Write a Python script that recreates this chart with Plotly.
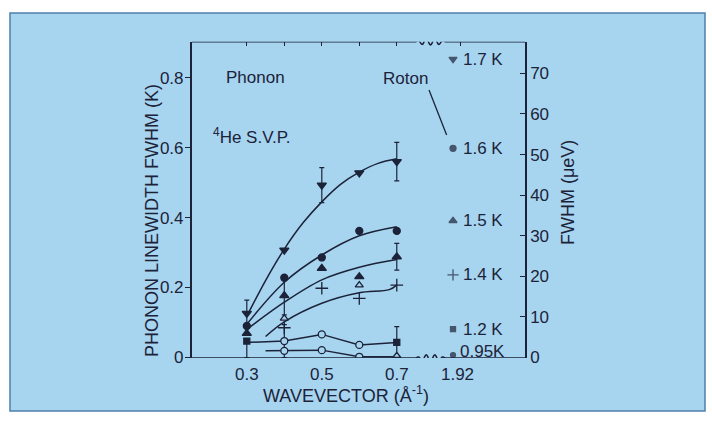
import math
import plotly.graph_objects as go

# { data (wavevector in 1/A, linewidth in K)
q = [0.3, 0.4, 0.5, 0.6, 0.7]

w17 = [0.126, 0.307, 0.493, 0.528, 0.560]          # filled down triangles
e17 = [0.038, 0.0, 0.050, 0.0, 0.055]
w16 = [0.090, 0.228, 0.286, 0.362, 0.362]          # filled circles
w15 = [0.069, 0.177, 0.255, 0.231, 0.288]          # filled up triangles
e15 = [0.0, 0.055, 0.0, 0.0, 0.038]
q14 = [0.4, 0.5, 0.6, 0.7]
w14 = [0.085, 0.198, 0.169, 0.207]                 # crosses
q_open_tri = [0.4, 0.6, 0.7]
w_open_tri = [0.112, 0.207, 0.005]
q12 = [0.3, 0.7]
w12 = [0.047, 0.043]                               # filled squares
e12_up = [0.0, 0.045]
e12_dn = [0.047, 0.043]
q_oc1 = [0.4, 0.5, 0.6]
w_oc1 = [0.047, 0.066, 0.036]                      # open circles, upper row
e_oc1 = [0.047, 0.0, 0.0]
q_oc2 = [0.4, 0.5, 0.6]
w_oc2 = [0.019, 0.021, 0.002]                      # open circles, lower row

# hand drawn guide curves
qa = [0.3, 0.35, 0.4, 0.45, 0.5, 0.55, 0.6, 0.65, 0.7]
ca = [0.118, 0.220, 0.310, 0.385, 0.445, 0.495, 0.530, 0.555, 0.568]
qb = [0.3, 0.4, 0.5, 0.6, 0.7]
cb = [0.095, 0.215, 0.293, 0.348, 0.374]
qc = [0.3, 0.4, 0.5, 0.6, 0.7]
cc = [0.080, 0.158, 0.222, 0.258, 0.280]
qd = [0.35, 0.4, 0.5, 0.6, 0.68, 0.7]
cd = [0.060, 0.102, 0.155, 0.185, 0.194, 0.207]
qe = [0.3, 0.4, 0.5, 0.6, 0.7]
ce = [0.043, 0.047, 0.066, 0.036, 0.043]
qf = [0.35, 0.4, 0.5, 0.6, 0.7]
cf = [0.019, 0.019, 0.021, 0.002, 0.002]

# roton points at q = 1.92
roton_T = ['1.7 K', '1.6 K', '1.5 K', '1.4 K', '1.2 K', '0.95K']
roton_w = [0.853, 0.598, 0.391, 0.236, 0.081, 0.007]
roton_sym = ['triangle-down', 'circle', 'triangle-up', 'cross-thin', 'square', 'circle']
roton_size = [7, 6, 7, 8, 5, 5]
# }

K_TO_UEV = 86.17
ROTON_X = 0.85            # where 1.92 sits on the broken axis
BREAK = (0.750, 0.830)
Y0, Y1 = -0.0015, 0.903
X0, X1 = 0.153, 1.042

INK = '#1c2339'
PANEL = '#a7d4ef'
FONT = 'Liberation Sans, Arial, sans-serif'
TXT = dict(size=17, color=INK, family=FONT)
TITLE = dict(size=18, color=INK, family=FONT)

fig = go.Figure()

# { guide curves
for xs, ys, shape in [(qa, ca, 'spline'), (qb, cb, 'spline'), (qc, cc, 'spline'),
                      (qd, cd, 'spline'), (qe, ce, 'linear'), (qf, cf, 'linear')]:
    fig.add_trace(go.Scatter(x=xs, y=ys, mode='lines', line_shape=shape,
                             line=dict(color=INK, width=1.5), hoverinfo='skip'))
# }


def pts(xs, ys, sym, size, up=None, dn=None, open_=False):
    err = None
    if up is not None:
        err = dict(type='data', array=up, arrayminus=dn if dn is not None else up,
                   color=INK, thickness=1.2, width=2.5, visible=True)
    fig.add_trace(go.Scatter(x=xs, y=ys, mode='markers', error_y=err,
                             marker=dict(symbol=sym, size=size,
                                         color=PANEL if open_ else INK,
                                         line=dict(color=INK, width=1.3))))


pts(q12, w12, 'square', 6, e12_up, e12_dn)
pts(q_oc1, w_oc1, 'circle', 7, e_oc1, e_oc1, open_=True)
pts(q_oc2, w_oc2, 'circle', 7, open_=True)
pts(q_open_tri, w_open_tri, 'triangle-up', 7, open_=True)
pts(q14, w14, 'cross-thin', 9)
pts(q, w15, 'triangle-up', 8, e15, e15)
pts(q, w16, 'circle', 7)
pts(q, w17, 'triangle-down', 8, e17, e17)

# { roton points with their temperatures
fig.add_trace(go.Scatter(x=[ROTON_X] * len(roton_w), y=roton_w, mode='markers',
                         marker=dict(symbol=roton_sym, size=roton_size, color=INK,
                                     line=dict(color=INK, width=1.3))))
for t, w in zip(roton_T, roton_w):
    fig.add_annotation(x=ROTON_X, y=w, text=t, showarrow=False, xanchor='left',
                       xshift=5 if t == '0.95K' else 8, yshift=4 if t == '0.95K' else 0,
                       font=TXT)
# }

# { free text
fig.add_annotation(x=0.323, y=0.802, text='Phonon', showarrow=False, font=TXT)
fig.add_annotation(x=0.723, y=0.798, text='Roton', showarrow=False, font=TXT)
fig.add_annotation(x=0.205, y=0.632, text='<sup>4</sup>He S.V.P.', showarrow=False,
                   xanchor='left', font=TXT)
fig.add_shape(type='line', xref='x', yref='y', x0=0.786, y0=0.765, x1=0.833, y1=0.636,
              line=dict(color=INK, width=1.3))

# axis titles, placed by hand like the printed figure
fig.add_annotation(xref='paper', yref='paper', x=152 / 712, y=1 - 221 / 421,
                   xanchor='center', yanchor='middle',
                   text='PHONON LINEWIDTH FWHM (K)', textangle=-90, showarrow=False,
                   font=TITLE)
fig.add_annotation(xref='paper', yref='paper', x=568 / 712, y=1 - 193 / 421,
                   xanchor='center', yanchor='middle',
                   text='FWHM (μeV)', textangle=-90, showarrow=False, font=TITLE)
fig.add_annotation(xref='paper', yref='paper', x=346 / 712, y=1 - 394 / 421,
                   xanchor='center', yanchor='middle',
                   text='WAVEVECTOR (Å<sup>-1</sup>)', showarrow=False, font=TITLE)
# }

# { panel and broken top / bottom axis lines
fig.add_shape(type='rect', xref='paper', yref='paper', x0=10 / 712, x1=705 / 712,
              y0=1 - 411 / 421, y1=1 - 13 / 421, fillcolor=PANEL,
              line=dict(color='#4f7fa8', width=1.5), layer='below')


def broken(y, amp):
    n = 40
    path = f'M {X0},{y} L {BREAK[0]},{y}'
    for i in range(1, n + 1):
        xx = BREAK[0] + (BREAK[1] - BREAK[0]) * i / n
        yy = y + amp * math.sin(2 * math.pi * 3.5 * i / n) * min(1, 4 * i / n, 4 * (n - i) / n)
        path += f' L {xx},{yy}'
    path += f' L {X1},{y}'
    return path


for yy in (Y0, Y1):
    fig.add_shape(type='path', xref='x', yref='y', path=broken(yy, 0.009),
                  line=dict(color=INK, width=1.5))
# }

fig.update_layout(
    width=712, height=421,
    margin=dict(l=0, r=0, t=0, b=0),
    paper_bgcolor='white', plot_bgcolor='rgba(0,0,0,0)',
    showlegend=False,
    font=dict(family=FONT, size=17, color=INK),
    xaxis=dict(domain=[191.7 / 712, 525 / 712], range=[X0, X1], showgrid=False,
               automargin=False, zeroline=False, showline=False, ticks='',
               tickvals=[0.3, 0.5, 0.7, ROTON_X + 0.012],
               ticktext=['0.3', '0.5', '0.7', '1.92'], ticklabelstandoff=4),
    xaxis2=dict(overlaying='x', side='top', anchor='y', range=[X0, X1],
                automargin=False, showgrid=False, zeroline=False, showline=False,
                ticks='inside', ticklen=4, tickwidth=1.3, tickcolor=INK,
                tickvals=[0.3, 0.4, 0.5, 0.6, 0.7, ROTON_X + 0.02], showticklabels=False),
    yaxis=dict(domain=[1 - 358 / 421, 1 - 41.7 / 421], range=[Y0, Y1],
               automargin=False, showgrid=False, zeroline=False, showline=True,
               linecolor=INK, linewidth=1.5,
               ticks='outside', ticklen=5, tickwidth=1.3, tickcolor=INK,
               ticklabelstandoff=-2,
               tickvals=[0, 0.2, 0.4, 0.6, 0.8], ticktext=['0', '0.2', '0.4', '0.6', '0.8']),
    yaxis2=dict(overlaying='y', side='right', anchor='x',
                range=[Y0 * K_TO_UEV, Y1 * K_TO_UEV], automargin=False,
                showgrid=False, zeroline=False, showline=True, linecolor=INK, linewidth=1.5,
                ticks='inside', ticklen=5, tickwidth=1.3, tickcolor=INK,
                tickvals=[0, 10, 20, 30, 40, 50, 60, 70]),
)

# invisible traces so the top and right axes are drawn
fig.add_trace(go.Scatter(x=[X0], y=[Y0], xaxis='x2', mode='markers',
                         marker=dict(opacity=0), hoverinfo='skip'))
fig.add_trace(go.Scatter(x=[X0], y=[Y0 * K_TO_UEV], yaxis='y2', mode='markers',
                         marker=dict(opacity=0), hoverinfo='skip'))

# the page's default body margin would push the figure off the window
fig.write_html("out.html", config={'displayModeBar': False},
               post_script="document.body.style.margin='0';")
